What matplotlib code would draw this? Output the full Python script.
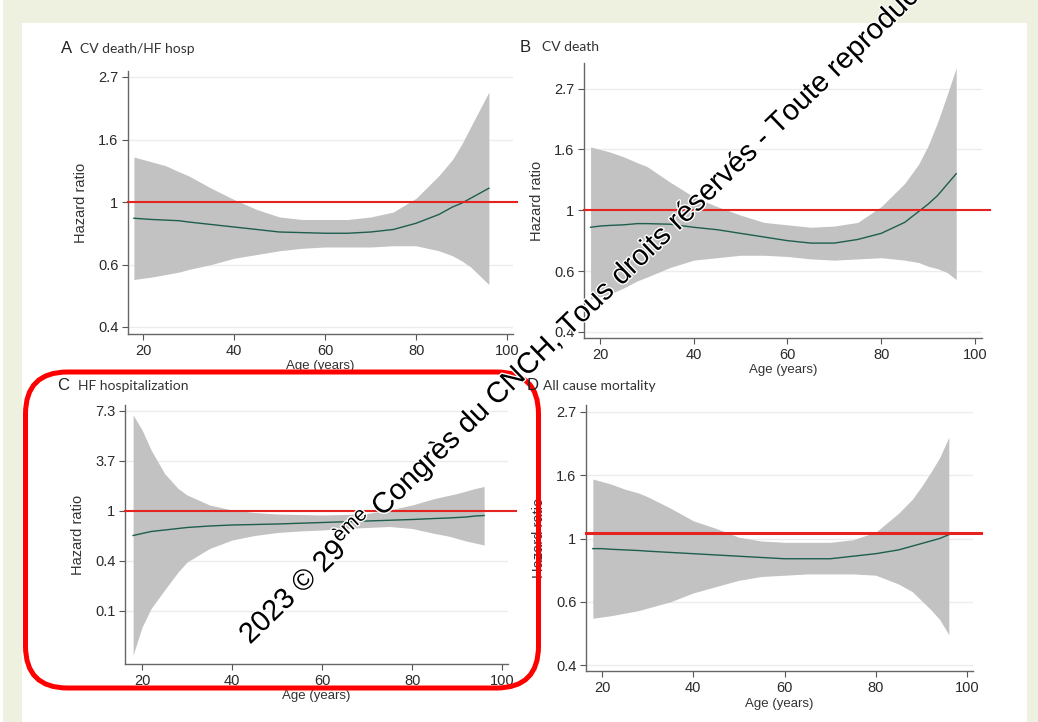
import matplotlib
matplotlib.use("Agg")
import matplotlib.pyplot as plt
import matplotlib.patheffects as pe
from matplotlib.patches import FancyBboxPatch, Rectangle

plt.rcParams['font.family'] = ['Liberation Sans', 'DejaVu Sans']
plt.rcParams['mathtext.fontset'] = 'custom'
plt.rcParams['mathtext.rm'] = 'Liberation Sans'

W, H = 1038, 722

age = [18, 20, 22, 25, 28, 30, 35, 40, 45, 50, 55, 60, 65, 70, 75, 80, 85, 88, 90, 92, 94, 96]

# A, B, D: log hazard ratio (ln HR)
a_fit = [-0.13, -0.135, -0.14, -0.145, -0.15, -0.16, -0.18, -0.20, -0.22, -0.24, -0.245, -0.25,
         -0.25, -0.24, -0.22, -0.17, -0.10, -0.04, -0.01, 0.03, 0.07, 0.11]
a_lo = [-0.62, -0.61, -0.60, -0.58, -0.56, -0.54, -0.50, -0.45, -0.42, -0.39, -0.37, -0.36,
        -0.36, -0.36, -0.35, -0.35, -0.39, -0.43, -0.47, -0.52, -0.59, -0.66]
a_hi = [0.36, 0.34, 0.32, 0.29, 0.24, 0.21, 0.11, 0.02, -0.06, -0.12, -0.14, -0.14,
        -0.14, -0.12, -0.08, 0.03, 0.21, 0.34, 0.46, 0.60, 0.74, 0.88]

b_fit = [-0.14, -0.13, -0.125, -0.12, -0.11, -0.11, -0.115, -0.14, -0.16, -0.19, -0.22, -0.25,
         -0.27, -0.27, -0.24, -0.19, -0.10, -0.01, 0.05, 0.12, 0.21, 0.30]
b_lo = [-0.73, -0.71, -0.69, -0.64, -0.58, -0.55, -0.47, -0.41, -0.39, -0.37, -0.37, -0.38,
        -0.40, -0.41, -0.40, -0.39, -0.41, -0.43, -0.46, -0.48, -0.51, -0.57]
b_hi = [0.52, 0.50, 0.48, 0.44, 0.39, 0.36, 0.23, 0.11, 0.03, -0.04, -0.10, -0.12,
        -0.14, -0.13, -0.10, 0.03, 0.22, 0.38, 0.53, 0.72, 0.94, 1.17]

# C: own scale, ticks 0.1 / 0.4 / 1 / 3.7 / 7.3 evenly spaced at -2..2
c_fit = [-0.49, -0.45, -0.41, -0.38, -0.35, -0.33, -0.30, -0.28, -0.27, -0.26, -0.245, -0.23,
         -0.215, -0.20, -0.185, -0.17, -0.15, -0.14, -0.13, -0.12, -0.10, -0.09]
c_lo = [-2.88, -2.32, -1.95, -1.58, -1.22, -1.02, -0.75, -0.58, -0.49, -0.43, -0.40, -0.38,
        -0.35, -0.33, -0.31, -0.35, -0.45, -0.50, -0.55, -0.60, -0.64, -0.68]
c_hi = [1.92, 1.62, 1.22, 0.75, 0.45, 0.32, 0.12, 0.02, -0.03, -0.06, -0.07, -0.08,
        -0.07, -0.05, 0.02, 0.12, 0.25, 0.31, 0.35, 0.40, 0.45, 0.49]

d_fit = [-0.08, -0.08, -0.085, -0.09, -0.095, -0.10, -0.11, -0.12, -0.13, -0.14, -0.15, -0.16,
         -0.16, -0.16, -0.14, -0.12, -0.09, -0.06, -0.04, -0.02, 0.0, 0.03]
d_lo = [-0.63, -0.62, -0.61, -0.59, -0.57, -0.55, -0.50, -0.43, -0.38, -0.33, -0.30, -0.29,
        -0.28, -0.28, -0.28, -0.29, -0.36, -0.42, -0.49, -0.56, -0.64, -0.76]
d_hi = [0.47, 0.45, 0.43, 0.39, 0.36, 0.33, 0.24, 0.14, 0.08, 0.01, -0.02, -0.03,
        -0.03, -0.03, -0.01, 0.05, 0.20, 0.31, 0.41, 0.52, 0.64, 0.80]

x_ticks = [20, 40, 60, 80, 100]
hr_pos = [-1, -0.5, 0, 0.5, 1]
hr_labels = ['0.4', '0.6', '1', '1.6', '2.7']
c_pos = [-2, -1, 0, 1, 2]
c_labels = ['0.1', '0.4', '1', '3.7', '7.3']

panels = [
    # letter, title, box (l, t, r, b px), xlim, ylim, ticks, labels, ref y, ref xmax, series
    ('A', 'CV death/HF hosp', (128, 71, 513, 334), (16.7, 101.3), (-1.056, 1.048),
     hr_pos, hr_labels, 0.0, 1.01, (a_fit, a_lo, a_hi), (61, 53), (80, 53)),
    ('B', 'CV death', (584, 63, 982, 338), (16.6, 101.5), (-1.05, 1.21),
     hr_pos, hr_labels, 0.0, 1.02, (b_fit, b_lo, b_hi), (520, 52), (542, 51)),
    ('C', 'HF hospitalization', (125, 405, 508, 664), (16.2, 101.3), (-3.06, 2.12),
     c_pos, c_labels, 0.0, 1.02, (c_fit, c_lo, c_hi), (57, 390), (78, 390)),
    ('D', 'All cause mortality', (586, 405, 973, 671), (16.5, 101.3), (-1.047, 1.055),
     hr_pos, hr_labels, 0.047, 1.02, (d_fit, d_lo, d_hi), (527, 390), (543, 390)),
]

fig = plt.figure(figsize=(W / 100, H / 100), dpi=100, facecolor='white')

# slide frame
bg = fig.add_axes([0, 0, 1, 1], zorder=-10)
bg.set_xlim(0, W)
bg.set_ylim(H, 0)
bg.axis('off')
bg.add_patch(Rectangle((3, 0), W - 3, H, color='#eef0e0', lw=0))
bg.add_patch(Rectangle((22, 23), 1005, H - 23, color='white', lw=0))

for (letter, title, box, xlim, ylim, yt, ytl, ref, ref_x, series, lpos, tpos) in panels:
    l, t, r, b = box
    ax = fig.add_axes([l / W, (H - b) / H, (r - l) / W, (b - t) / H])
    ax.set_facecolor('none')
    fit, lo, hi = series
    for y in yt:
        ax.axhline(y, color='#ececec', lw=1, zorder=0)
    ax.fill_between(age, lo, hi, color='#c2c2c2', lw=0, zorder=1)
    ax.plot(age, fit, color='#1d5e4e', lw=1, zorder=2)
    ax.axhline(ref, xmin=0, xmax=ref_x, color='#e52421',
               lw=2.2 if letter == 'D' else 1.5, zorder=3, clip_on=False)
    ax.set_xlim(*xlim)
    ax.set_ylim(*ylim)
    ax.set_xticks(x_ticks)
    ax.set_yticks(yt)
    ax.set_yticklabels(ytl)
    for s in ['top', 'right']:
        ax.spines[s].set_visible(False)
    for s in ['left', 'bottom']:
        ax.spines[s].set_color('#666666')
        ax.spines[s].set_linewidth(1)
    ax.tick_params(direction='out', length=4, width=0.8, color='#555555',
                   labelsize=10.5, labelcolor='#2a2a2a', pad=3)
    ax.set_xlabel('Age (years)', fontsize=9.5, color='#333333', labelpad=2)
    ax.set_ylabel('Hazard ratio', fontsize=10.5, color='#333333')
    ax.yaxis.set_label_coords(-40 / (r - l), 0.5)

# overlay: titles, red box, watermark
ov = fig.add_axes([0, 0, 1, 1], zorder=10)
ov.set_facecolor('none')
ov.set_xlim(0, W)
ov.set_ylim(H, 0)
ov.axis('off')
for (letter, title, *_rest, lpos, tpos) in panels:
    ov.text(lpos[0], lpos[1], letter, fontsize=12, color='#222222', va='baseline')
    ov.text(tpos[0], tpos[1], title, fontsize=10, color='#333333', va='baseline',
            family=['Lato', 'DejaVu Sans'])

ov.add_patch(FancyBboxPatch((25.5, 372), 513, 316,
                            boxstyle='round,pad=0,rounding_size=42',
                            fill=False, edgecolor='#ff0000', lw=3.6))

ov.text(250, 645,
        '2023 © 29$^{\\mathrm{ème}}$ Congrès du CNCH, Tous droits réservés - Toute reproduction partielle interdite',
        rotation=44, rotation_mode='anchor', ha='left', va='baseline',
        fontsize=21, color='black',
        path_effects=[pe.withStroke(linewidth=2, foreground='white')])

fig.savefig('out.png', dpi=100)
